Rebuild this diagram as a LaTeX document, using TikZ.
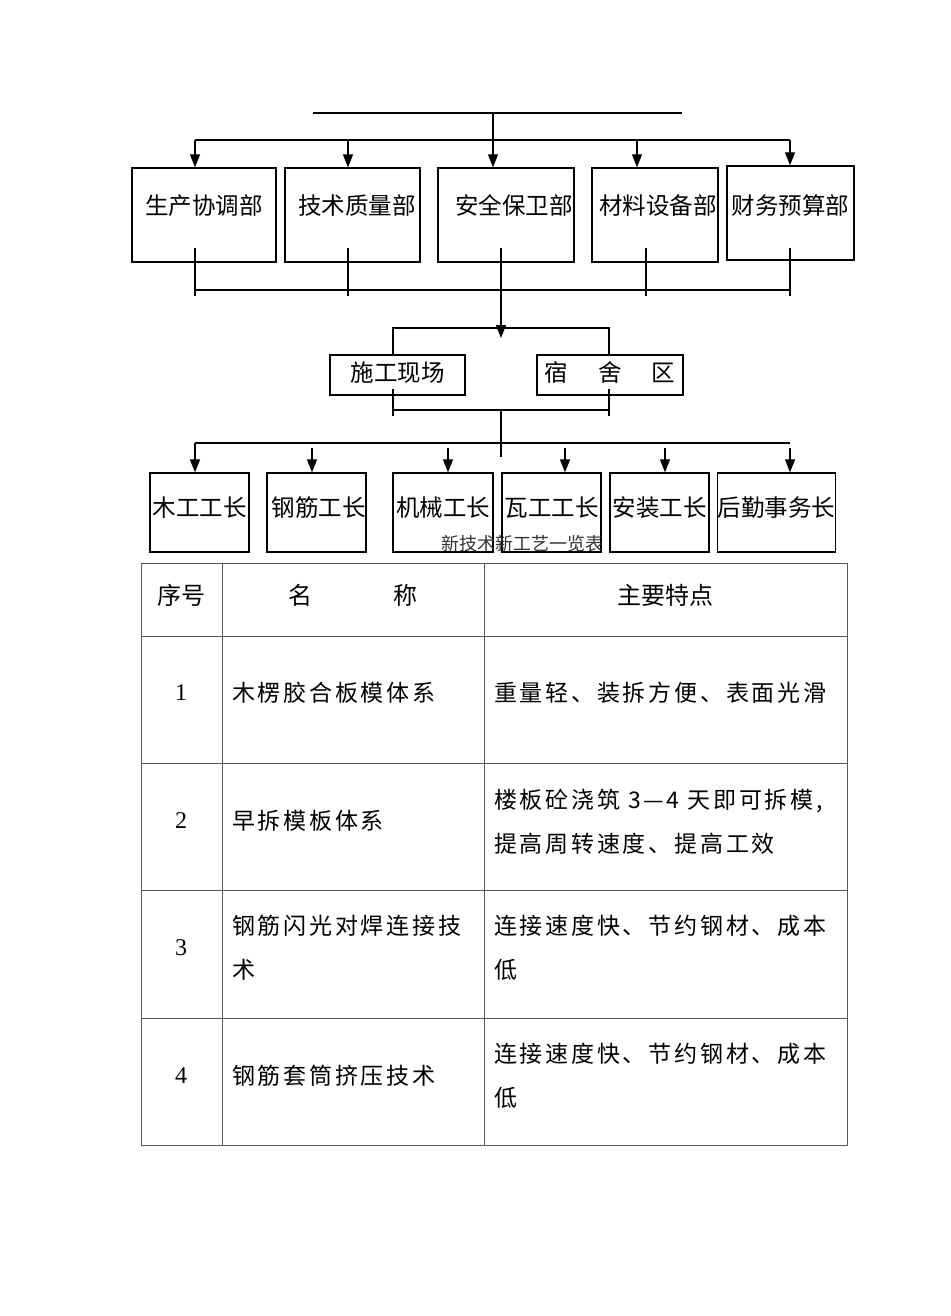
\documentclass[tikz,border=0pt]{standalone}
\usepackage{fontspec}
\setmainfont{Liberation Serif}
\newfontfamily\cjk{Noto Sans CJK SC}
\newfontfamily\cjkwide[LetterSpace=12]{Noto Sans CJK SC}
\usetikzlibrary{arrows.meta, positioning, calc}

\begin{document}
\begin{tikzpicture}[x=1pt, y=-1pt,
  dept/.style={draw, line width=1.3pt, inner sep=0pt, font=\cjk\fontsize{23.5}{28}\selectfont},
  arr/.style={line width=1.2pt, -{Triangle[length=13pt,width=10pt]}},
  link/.style={line width=1.2pt},
  grid/.style={line width=1pt, black!65},
  hdr/.style={inner sep=0pt, font=\cjk\fontsize{24}{28}\selectfont},
  num/.style={inner sep=0pt, font=\fontsize{24}{28}\selectfont},
  cell/.style={anchor=west, inner sep=0pt, align=left, font=\cjkwide\fontsize{23}{44}\selectfont}]
\useasboundingbox (0,0) rectangle (950,1316);

% Departments
\node[dept, minimum width=144pt, text height=46pt, text depth=48pt] (b1) at (204,215) {生产协调部\hspace{6pt}};
\node[dept, minimum width=135pt, text height=46pt, text depth=48pt] (b2) at (352.5,215) {\hspace{9pt}技术质量部};
\node[dept, minimum width=136pt, text height=46pt, text depth=48pt] (b3) at (506,215) {\hspace{16pt}安全保卫部};
\node[dept, minimum width=126pt, text height=46pt, text depth=48pt] (b4) at (655,215) {\hspace{6pt}材料设备部};
\node[dept, minimum width=127pt, text height=48pt, text depth=46pt] (b5) at (790.5,213) {财务预算部};

% Sites
\node[dept, minimum width=135pt, text height=26pt, text depth=14pt] (s1) at (397.5,375) {施工现场\hspace{9pt}};
\node[dept, minimum width=146pt, text height=26pt, text depth=14pt] (s2) at (610,375) {宿\hspace{30pt}舍\hspace{30pt}区};

% Foremen
\node[dept, minimum width=99pt, text height=43pt, text depth=36pt] (w1) at (199.5,512.5) {木工工长};
\node[dept, minimum width=99pt, text height=43pt, text depth=36pt] (w2) at (316.5,512.5) {\hspace{4pt}钢筋工长};
\node[dept, minimum width=100pt, text height=43pt, text depth=36pt] (w3) at (443,512.5) {机械工长};
\node[dept, minimum width=99pt, text height=43pt, text depth=36pt] (w4) at (551.5,512.5) {瓦工工长};
\node[dept, minimum width=99pt, text height=43pt, text depth=36pt] (w5) at (659.5,512.5) {安装工长};
\node[dept, minimum width=117pt, text height=43pt, text depth=36pt] (w6) at (776.5,512.5) {后勤事务长};

% Top bus
\coordinate (head-l) at (313,113);
\coordinate (head-r) at (682,113);
\coordinate (head-m) at (493,113);
\draw[link] (head-l) -- (head-r);
\draw[arr] (head-m) -- (head-m |- b3.north);
\coordinate (bus1-l) at (195,140);
\coordinate (bus1-r) at (790,140);
\draw[link] (bus1-l) -- (bus1-r);
\foreach \x/\n in {195/b1, 348/b2, 637/b4, 790/b5} {
  \coordinate (tap) at (\x,140);
  \draw[arr] (tap) -- (tap |- \n.north);
}

% Departments to sites
\coordinate (bus2-l) at (195,290);
\coordinate (bus2-r) at (790,290);
\draw[link] (bus2-l) -- (bus2-r);
\foreach \x in {195, 348, 646, 790} {
  \coordinate (drop) at (\x,248);
  \draw[link] (drop) -- ++(0,48);
}
\coordinate (mid2) at (501,248);
\draw[arr] (mid2) -- ++(0,90);
\coordinate (site-l) at (393,328);
\coordinate (site-r) at (609,328);
\draw[link] (site-l |- s1.north) -- (site-l) -- (site-r) -- (site-r |- s2.north);

% Sites to foremen
\coordinate (yard-l) at (393,410);
\coordinate (yard-r) at (609,410);
\draw[link] (yard-l) -- (yard-r);
\draw[link] (393,389) -- (393,416);
\draw[link] (609,389) -- (609,416);
\draw[link] (501,410) -- (501,457);
\coordinate (bus3-l) at (195,443);
\coordinate (bus3-r) at (790,443);
\draw[link] (bus3-l) -- (bus3-r);
\draw[arr] (bus3-l) -- (bus3-l |- w1.north);
\foreach \x/\n in {312/w2, 448/w3, 565/w4, 665/w5, 790/w6} {
  \coordinate (tap) at (\x,448);
  \draw[arr] (tap) -- (tap |- \n.north);
}

% Caption
\node[inner sep=0pt, black!80, font=\cjk\fontsize{18}{20}\selectfont] (cap) at (522,544) {新技术新工艺一览表};

% Table
\draw[grid] (141,563) rectangle (847,1145);
\foreach \y in {636,763,890,1018} \draw[grid] (141,\y) -- (847,\y);
\foreach \x in {222,484} \draw[grid] (\x,563) -- (\x,1145);

\node[hdr] (h-no) at (181,595) {序号};
\node[hdr] (h-name1) at (300,595) {名};
\node[hdr] (h-name2) at (405,595) {称};
\node[hdr] (h-feat) at (665,595) {主要特点};

\node[num] (n1) at (181,693) {1};
\node[num] (n2) at (181,821) {2};
\node[num] (n3) at (181,948) {3};
\node[num] (n4) at (181,1076) {4};

\node[cell] (c1) at (232,693) {木楞胶合板模体系};
\node[cell] (c2) at (232,821) {早拆模板体系};
\node[cell] (c3) at (232,948) {钢筋闪光对焊连接技\\术};
\node[cell] (c4) at (232,1076) {钢筋套筒挤压技术};

\node[cell] (f1) at (494,693) {重量轻、装拆方便、表面光滑};
\node[cell] (f2) at (494,822) {楼板砼浇筑 3—4 天即可拆模,\\提高周转速度、提高工效};
\node[cell] (f3) at (494,948) {连接速度快、节约钢材、成本\\低};
\node[cell] (f4) at (494,1076) {连接速度快、节约钢材、成本\\低};
\end{tikzpicture}
\end{document}
